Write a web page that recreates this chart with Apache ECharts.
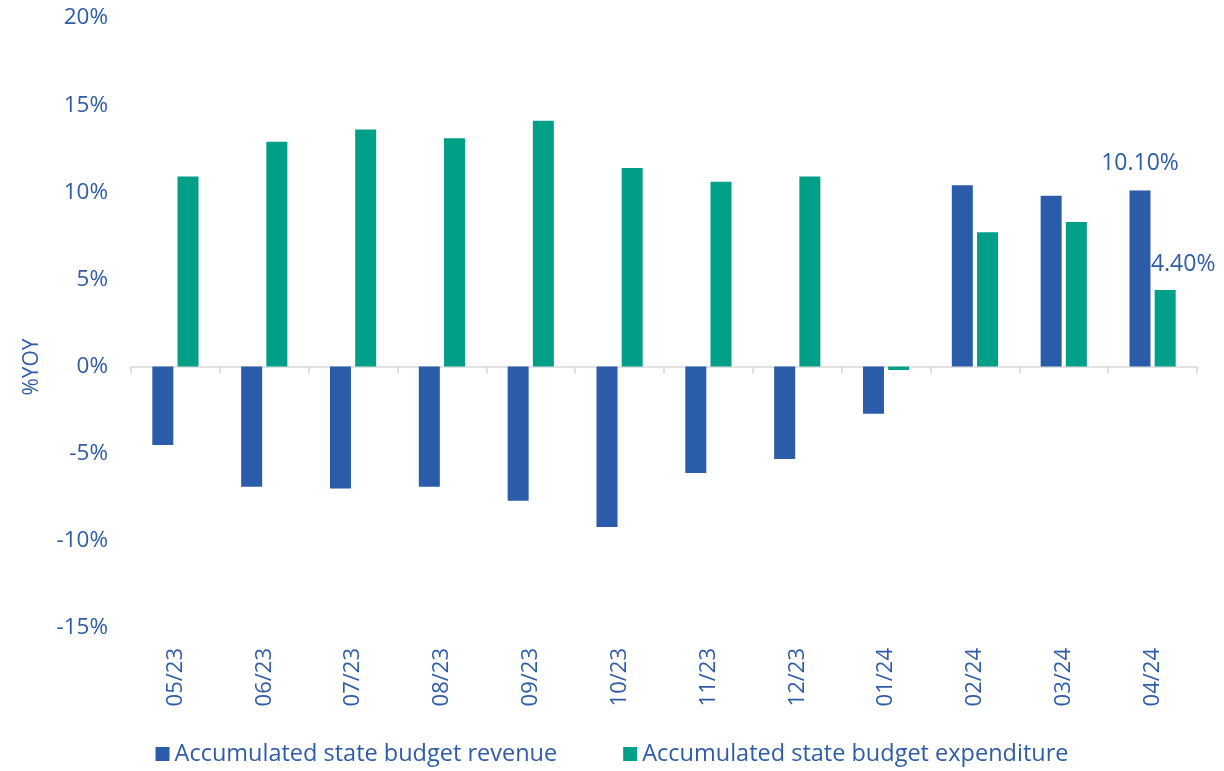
<!DOCTYPE html>
<html>
<head>
<meta charset="utf-8">
<script src="https://cdn.jsdelivr.net/npm/echarts@6/dist/echarts.min.js"></script>
<style>
  html, body { margin: 0; padding: 0; background: #fff; }
  #chart { width: 1224px; height: 771px; }
</style>
</head>
<body>
<div id="chart"></div>
<script>
// months shown on the x axis
const months = ['05/23', '06/23', '07/23', '08/23', '09/23', '10/23', '11/23', '12/23', '01/24', '02/24', '03/24', '04/24']
// %YoY values
const revenue = [-4.5, -6.9, -7.0, -6.9, -7.7, -9.2, -6.1, -5.3, -2.7, 10.4, 9.8, 10.1]
const expenditure = [10.9, 12.9, 13.6, 13.1, 14.1, 11.4, 10.6, 10.9, -0.2, 7.7, 8.3, 4.4]
const seriesNames = ['Accumulated state budget revenue', 'Accumulated state budget expenditure']

const blue = '#2B5CAA'
const green = '#009F88'
const textColor = '#2F5CA8'
const font = 'Open Sans'

const chart = echarts.init(document.getElementById('chart'))

// only the last month carries a value label
const withLastLabel = (arr, label) =>
  arr.map((v, i) => (i === arr.length - 1 ? { value: v, label: label } : v))

const option = {
  animation: false,
  textStyle: { fontFamily: font },
  grid: { left: 131, right: 27, top: 18, bottom: 143 },
  legend: {
    bottom: 0,
    left: 'center',
    itemWidth: 14,
    itemHeight: 14,
    itemGap: 66,
    icon: 'rect',
    textStyle: { color: textColor, fontSize: 23.5, fontFamily: font },
    data: seriesNames,
  },
  xAxis: [
    {
      // line + ticks through zero
      type: 'category',
      data: months,
      axisLine: { onZero: true, lineStyle: { color: '#d9d9d9', width: 1.5 } },
      axisTick: { show: true, length: 7, lineStyle: { color: '#d9d9d9', width: 1.5 } },
      axisLabel: { show: false },
    },
    {
      // labels down at the bottom of the plot
      type: 'category',
      data: months,
      position: 'bottom',
      axisLine: { show: false, onZero: false },
      axisTick: { show: false },
      axisLabel: { rotate: 90, margin: 20, color: textColor, fontSize: 22, fontFamily: font },
    },
  ],
  yAxis: {
    type: 'value',
    min: -15,
    max: 20,
    interval: 5,
    name: '%YOY',
    nameLocation: 'middle',
    nameGap: 88,
    nameTextStyle: { color: textColor, fontSize: 21, fontFamily: font, padding: [0, 88, 0, 0] },
    axisLine: { show: false },
    axisTick: { show: false },
    splitLine: { show: false },
    axisLabel: { formatter: '{value}%', margin: 23, color: textColor, fontSize: 22.5, fontFamily: font },
  },
  series: [
    {
      name: seriesNames[0],
      type: 'bar',
      barWidth: 21,
      barGap: '20%',
      itemStyle: { color: blue },
      data: withLastLabel(revenue, {
        show: true,
        position: 'top',
        distance: 16,
        formatter: (p) => p.value.toFixed(2) + '%',
        color: textColor,
        fontSize: 23,
        fontFamily: font,
      }),
    },
    {
      name: seriesNames[1],
      type: 'bar',
      barWidth: 21,
      itemStyle: { color: green },
      data: withLastLabel(expenditure, {
        show: true,
        position: 'top',
        distance: 14,
        offset: [18, 0],
        formatter: (p) => p.value.toFixed(2) + '%',
        color: textColor,
        fontSize: 23,
        fontFamily: font,
      }),
    },
  ],
}

chart.setOption(option)
</script>
</body>
</html>
